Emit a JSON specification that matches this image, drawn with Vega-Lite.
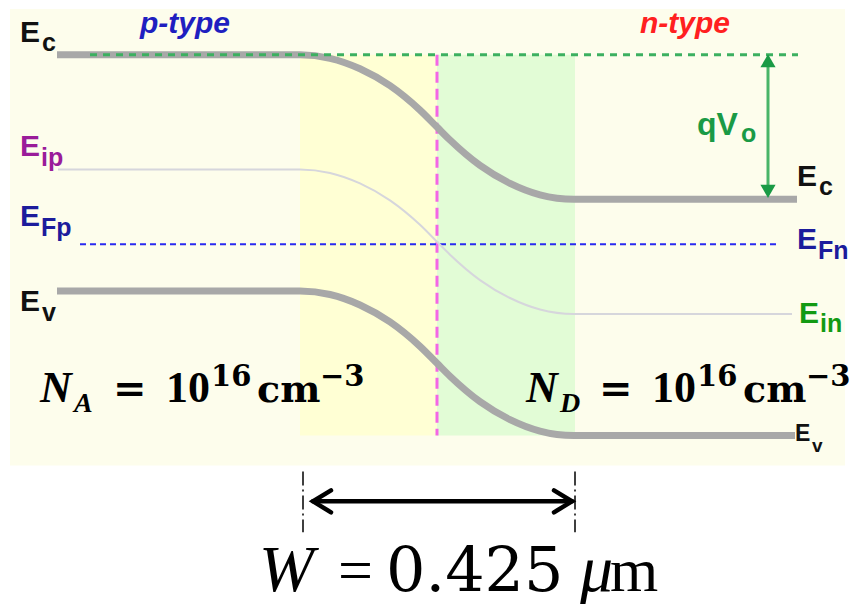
{
  "$schema": "https://vega.github.io/schema/vega-lite/v6.json",
  "width": 868,
  "height": 604,
  "autosize": {"type": "fit", "contains": "padding"},
  "padding": 0,
  "background": "white",
  "config": {"view": {"stroke": null}},
  "datasets": {
    "panel": [{"x": 10, "x2": 845, "y": 9, "y2": 467}],
    "pzone": [{"x": 300, "x2": 437, "y": 55, "y2": 437}],
    "nzone": [{"x": 437, "x2": 575, "y": 55, "y2": 437}],
    "vacuum": [{"x": 90, "x2": 798, "y": 55}],
    "fermi": [{"x": 80, "x2": 777, "y": 245}],
    "junction": [{"x": 437, "y": 55, "y2": 437}],
    "intrinsic": [
      {"x": 58, "y": 170}, {"x": 300, "y": 170}, {"x": 330, "y": 173.5}, {"x": 360, "y": 184}, {"x": 390, "y": 201}, {"x": 420, "y": 225.5}, {"x": 437, "y": 242.5}, {"x": 450, "y": 255.5}, {"x": 480, "y": 281}, {"x": 510, "y": 299}, {"x": 540, "y": 310.5}, {"x": 574, "y": 315}, {"x": 792, "y": 315}
    ],
    "bands": [
      {"b": "Ec", "x": 57, "y": 55}, {"b": "Ec", "x": 300, "y": 55}, {"b": "Ec", "x": 330, "y": 58.5}, {"b": "Ec", "x": 360, "y": 69}, {"b": "Ec", "x": 390, "y": 86}, {"b": "Ec", "x": 420, "y": 110.5}, {"b": "Ec", "x": 437, "y": 127.5}, {"b": "Ec", "x": 450, "y": 140.5}, {"b": "Ec", "x": 480, "y": 166}, {"b": "Ec", "x": 510, "y": 184}, {"b": "Ec", "x": 540, "y": 195.5}, {"b": "Ec", "x": 574, "y": 200}, {"b": "Ec", "x": 797, "y": 200},
      {"b": "Ev", "x": 57, "y": 292}, {"b": "Ev", "x": 300, "y": 292}, {"b": "Ev", "x": 330, "y": 295.5}, {"b": "Ev", "x": 360, "y": 306}, {"b": "Ev", "x": 390, "y": 323}, {"b": "Ev", "x": 420, "y": 347.5}, {"b": "Ev", "x": 437, "y": 364.5}, {"b": "Ev", "x": 450, "y": 377.5}, {"b": "Ev", "x": 480, "y": 403}, {"b": "Ev", "x": 510, "y": 421}, {"b": "Ev", "x": 540, "y": 432.5}, {"b": "Ev", "x": 574, "y": 437}, {"b": "Ev", "x": 795, "y": 437}
    ],
    "barrier": [{"x": 768, "y": 66, "y2": 188}],
    "heads": [{"x": 768, "y": 61, "dir": "up"}, {"x": 768, "y": 192, "dir": "down"}],
    "labelsBig": [
      {"lab": "c", "t": "E", "x": 20, "y": 42},
      {"lab": "ip", "t": "E", "x": 20, "y": 157},
      {"lab": "Fp", "t": "E", "x": 20, "y": 227},
      {"lab": "v", "t": "E", "x": 20, "y": 312},
      {"lab": "c", "t": "E", "x": 797, "y": 187},
      {"lab": "Fn", "t": "E", "x": 797, "y": 250},
      {"lab": "in", "t": "E", "x": 799, "y": 324}
    ],
    "labelsSub": [
      {"lab": "c", "t": "c", "x": 42, "y": 51},
      {"lab": "ip", "t": "ip", "x": 41, "y": 167},
      {"lab": "Fp", "t": "Fp", "x": 41, "y": 237},
      {"lab": "v", "t": "v", "x": 42, "y": 322},
      {"lab": "c", "t": "c", "x": 819, "y": 196},
      {"lab": "Fn", "t": "Fn", "x": 818, "y": 260},
      {"lab": "in", "t": "in", "x": 820, "y": 333}
    ],
    "qv": [{"lab": "q", "t": "qV", "x": 697, "y": 135}],
    "qvSub": [{"lab": "q", "t": "o", "x": 741, "y": 142}],
    "labelsSmall": [{"lab": "v", "t": "E", "x": 795, "y": 442}],
    "labelsSmallSub": [{"lab": "v", "t": "v", "x": 812, "y": 454}],
    "types": [{"lab": "p", "t": "p-type", "x": 140, "y": 33}, {"lab": "n", "t": "n-type", "x": 640, "y": 33}],
    "fItalic": [{"t": "N", "x": 40, "y": 403}, {"t": "N", "x": 526, "y": 403}],
    "fItalicSub": [{"t": "A", "x": 74, "y": 413}, {"t": "D", "x": 560, "y": 413}],
    "fEq": [{"t": "=", "x": 113, "y": 403}, {"t": "=", "x": 599, "y": 403}],
    "fDigits": [{"t": "10", "x": 166, "y": 403}, {"t": "10", "x": 652, "y": 403}],
    "fUnit": [{"t": "cm", "x": 257, "y": 403}, {"t": "cm", "x": 743, "y": 403}],
    "fSup": [{"t": "16", "x": 211, "y": 387}, {"t": "−3", "x": 320, "y": 387}, {"t": "16", "x": 697, "y": 387}, {"t": "−3", "x": 806, "y": 387}],
    "edges": [{"x": 303, "y": 473, "y2": 534}, {"x": 575, "y": 473, "y2": 534}],
    "widthArrow": [
      {"g": "L", "i": 0, "x": 331, "y": 492}, {"g": "L", "i": 1, "x": 313, "y": 503}, {"g": "L", "i": 2, "x": 331, "y": 514},
      {"g": "S", "i": 0, "x": 313, "y": 503}, {"g": "S", "i": 1, "x": 572, "y": 503},
      {"g": "R", "i": 0, "x": 554, "y": 492}, {"g": "R", "i": 1, "x": 572, "y": 503}, {"g": "R", "i": 2, "x": 554, "y": 514}
    ],
    "wItalic": [{"t": "W", "x": 259, "y": 593}, {"t": "μ", "x": 580, "y": 593}],
    "wUpright": [{"t": "=", "x": 338, "y": 593}, {"t": "m", "x": 610, "y": 593}],
    "wNumber": [{"t": "0.425", "x": 386, "y": 593}]
  },
  "encoding": {
    "x": {"field": "x", "type": "quantitative", "scale": {"domain": [0, 868], "nice": false, "zero": false}, "axis": null},
    "y": {"field": "y", "type": "quantitative", "scale": {"domain": [0, 604], "nice": false, "zero": false, "reverse": true}, "axis": null}
  },
  "layer": [
    {"data": {"name": "panel"}, "mark": {"type": "rect", "fill": "#fdfdec"}, "encoding": {"x2": {"field": "x2"}, "y2": {"field": "y2"}}},
    {"data": {"name": "pzone"}, "mark": {"type": "rect", "fill": "#ffffd4"}, "encoding": {"x2": {"field": "x2"}, "y2": {"field": "y2"}}},
    {"data": {"name": "nzone"}, "mark": {"type": "rect", "fill": "#e2fcd6"}, "encoding": {"x2": {"field": "x2"}, "y2": {"field": "y2"}}},
    {"data": {"name": "junction"}, "mark": {"type": "rule", "stroke": "#f466e6", "strokeWidth": 3, "strokeDash": [11, 6]}, "encoding": {"y2": {"field": "y2"}}},
    {"data": {"name": "fermi"}, "mark": {"type": "rule", "stroke": "#2a2af0", "strokeWidth": 2, "strokeDash": [6, 4]}, "encoding": {"x2": {"field": "x2"}}},
    {"data": {"name": "intrinsic"}, "mark": {"type": "line", "stroke": "#d6d6dc", "strokeWidth": 2, "interpolate": "monotone"}, "encoding": {}},
    {"data": {"name": "bands"}, "mark": {"type": "line", "stroke": "#a8a8a8", "strokeWidth": 7, "interpolate": "monotone", "strokeCap": "butt"}, "encoding": {"detail": {"field": "b"}}},
    {"data": {"name": "vacuum"}, "mark": {"type": "rule", "stroke": "#3cb060", "strokeWidth": 3, "strokeDash": [7, 6]}, "encoding": {"x2": {"field": "x2"}}},
    {"data": {"name": "barrier"}, "mark": {"type": "rule", "stroke": "#48b568", "strokeWidth": 3}, "encoding": {"y2": {"field": "y2"}}},
    {"data": {"name": "heads"}, "mark": {"type": "point", "filled": true, "size": 230, "color": "#1a9a45", "opacity": 1}, "encoding": {"shape": {"field": "dir", "type": "nominal", "scale": {"domain": ["up", "down"], "range": ["triangle-up", "triangle-down"]}, "legend": null}}},
    {"data": {"name": "labelsBig"}, "mark": {"type": "text", "font": "Liberation Sans", "fontWeight": "bold", "fontSize": 30, "align": "left", "baseline": "alphabetic"}, "encoding": {"text": {"field": "t"}, "color": {"field": "lab", "type": "nominal", "scale": {"domain": ["c", "v", "ip", "Fp", "Fn", "in", "q", "p", "n"], "range": ["#111111", "#111111", "#9a1c9a", "#1c1c9c", "#1c1c9c", "#129a12", "#1a9a45", "#1f1fc0", "#ff2020"]}, "legend": null}}},
    {"data": {"name": "labelsSub"}, "mark": {"type": "text", "font": "Liberation Sans", "fontWeight": "bold", "fontSize": 25, "align": "left", "baseline": "alphabetic"}, "encoding": {"text": {"field": "t"}, "color": {"field": "lab", "type": "nominal", "legend": null}}},
    {"data": {"name": "qv"}, "mark": {"type": "text", "font": "Liberation Sans", "fontWeight": "bold", "fontSize": 32, "align": "left", "baseline": "alphabetic"}, "encoding": {"text": {"field": "t"}, "color": {"field": "lab", "type": "nominal", "legend": null}}},
    {"data": {"name": "qvSub"}, "mark": {"type": "text", "font": "Liberation Sans", "fontWeight": "bold", "fontSize": 25, "align": "left", "baseline": "alphabetic"}, "encoding": {"text": {"field": "t"}, "color": {"field": "lab", "type": "nominal", "legend": null}}},
    {"data": {"name": "labelsSmall"}, "mark": {"type": "text", "font": "Liberation Sans", "fontWeight": "bold", "fontSize": 23, "align": "left", "baseline": "alphabetic"}, "encoding": {"text": {"field": "t"}, "color": {"field": "lab", "type": "nominal", "legend": null}}},
    {"data": {"name": "labelsSmallSub"}, "mark": {"type": "text", "font": "Liberation Sans", "fontWeight": "bold", "fontSize": 19, "align": "left", "baseline": "alphabetic"}, "encoding": {"text": {"field": "t"}, "color": {"field": "lab", "type": "nominal", "legend": null}}},
    {"data": {"name": "types"}, "mark": {"type": "text", "font": "Liberation Sans", "fontWeight": "bold", "fontStyle": "italic", "fontSize": 30, "align": "left", "baseline": "alphabetic"}, "encoding": {"text": {"field": "t"}, "color": {"field": "lab", "type": "nominal", "legend": null}}},
    {"data": {"name": "fItalic"}, "mark": {"type": "text", "font": "Liberation Serif", "fontWeight": "bold", "fontStyle": "italic", "fontSize": 44, "align": "left", "baseline": "alphabetic", "color": "#000000"}, "encoding": {"text": {"field": "t"}}},
    {"data": {"name": "fItalicSub"}, "mark": {"type": "text", "font": "Liberation Serif", "fontWeight": "bold", "fontStyle": "italic", "fontSize": 28, "align": "left", "baseline": "alphabetic", "color": "#000000"}, "encoding": {"text": {"field": "t"}}},
    {"data": {"name": "fEq"}, "mark": {"type": "text", "font": "DejaVu Serif", "fontWeight": "bold", "fontSize": 40, "align": "left", "baseline": "alphabetic", "color": "#000000"}, "encoding": {"text": {"field": "t"}}},
    {"data": {"name": "fDigits"}, "mark": {"type": "text", "font": "Liberation Serif", "fontWeight": "bold", "fontSize": 44, "align": "left", "baseline": "alphabetic", "color": "#000000"}, "encoding": {"text": {"field": "t"}}},
    {"data": {"name": "fUnit"}, "mark": {"type": "text", "font": "DejaVu Serif", "fontWeight": "bold", "fontSize": 38, "align": "left", "baseline": "alphabetic", "color": "#000000"}, "encoding": {"text": {"field": "t"}}},
    {"data": {"name": "fSup"}, "mark": {"type": "text", "font": "DejaVu Serif", "fontWeight": "bold", "fontSize": 29, "align": "left", "baseline": "alphabetic", "color": "#000000"}, "encoding": {"text": {"field": "t"}}},
    {"data": {"name": "edges"}, "mark": {"type": "rule", "stroke": "#000000", "strokeWidth": 1.5, "strokeDash": [14, 4, 2, 4]}, "encoding": {"y2": {"field": "y2"}}},
    {"data": {"name": "widthArrow"}, "mark": {"type": "line", "stroke": "#000000", "strokeWidth": 4.5, "strokeCap": "round", "strokeJoin": "miter"}, "encoding": {"detail": {"field": "g"}, "order": {"field": "i", "type": "quantitative"}}},
    {"data": {"name": "wItalic"}, "mark": {"type": "text", "font": "Liberation Serif", "fontStyle": "italic", "fontSize": 66, "align": "left", "baseline": "alphabetic", "color": "#000000"}, "encoding": {"text": {"field": "t"}}},
    {"data": {"name": "wUpright"}, "mark": {"type": "text", "font": "Liberation Serif", "fontSize": 62, "align": "left", "baseline": "alphabetic", "color": "#000000"}, "encoding": {"text": {"field": "t"}}},
    {"data": {"name": "wNumber"}, "mark": {"type": "text", "font": "DejaVu Serif", "fontSize": 62, "align": "left", "baseline": "alphabetic", "color": "#000000"}, "encoding": {"text": {"field": "t"}}}
  ]
}
